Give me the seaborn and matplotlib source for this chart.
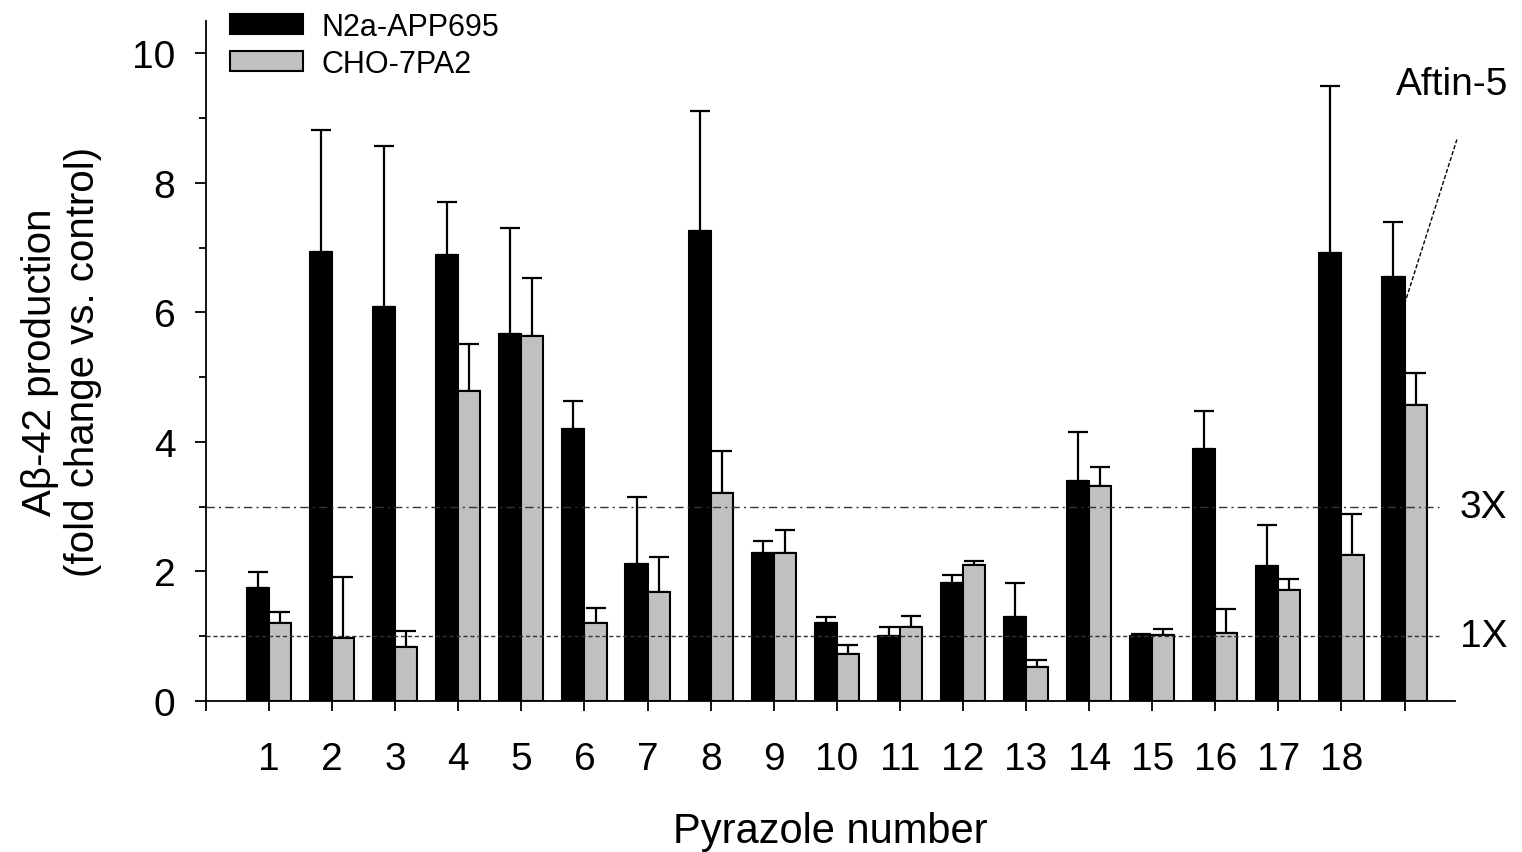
import matplotlib
matplotlib.use("Agg")
import matplotlib.pyplot as plt
import seaborn as sns
import pandas as pd
import numpy as np

# ---- data ----
pyrazoles = [str(i) for i in range(1, 20)]
tick_labels = [str(i) for i in range(1, 19)]
n2a_mean = [1.74, 6.93, 6.08, 6.89, 5.66, 4.20, 2.11, 7.25, 2.28, 1.20,
            1.01, 1.82, 1.30, 3.40, 1.00, 3.89, 2.09, 6.91, 6.55]
n2a_upper = [1.99, 8.82, 8.57, 7.71, 7.31, 4.64, 3.15, 9.11, 2.47, 1.30,
             1.14, 1.95, 1.82, 4.15, 1.03, 4.48, 2.71, 9.50, 7.40]
cho_mean = [1.20, 0.97, 0.84, 4.78, 5.63, 1.20, 1.69, 3.21, 2.28, 0.73,
            1.15, 2.10, 0.52, 3.32, 1.02, 1.05, 1.71, 2.25, 4.57]
cho_upper = [1.38, 1.91, 1.08, 5.52, 6.53, 1.44, 2.23, 3.86, 2.64, 0.87,
             1.32, 2.16, 0.63, 3.61, 1.11, 1.42, 1.88, 2.88, 5.06]
series = ["N2a-APP695", "CHO-7PA2"]
colors = {"N2a-APP695": "black", "CHO-7PA2": "#c0c0c0"}

df = pd.DataFrame({
    "Pyrazole": pyrazoles * 2,
    "Line": [series[0]] * 19 + [series[1]] * 19,
    "Value": n2a_mean + cho_mean,
})

sns.set_style("ticks")
plt.rcParams["font.family"] = ["Liberation Sans", "DejaVu Sans"]
plt.rcParams.update({"text.color": "black", "axes.labelcolor": "black",
                     "xtick.color": "black", "ytick.color": "black",
                     "axes.edgecolor": "black"})

fig = plt.figure(figsize=(15.22, 8.53), dpi=100)
ax = fig.add_axes([206 / 1522, 1 - 702 / 853, (1455 - 206) / 1522, (702 - 22) / 853])

sns.barplot(data=df, x="Pyrazole", y="Value", hue="Line", order=pyrazoles,
            hue_order=series, palette=colors, errorbar=None, width=0.7,
            edgecolor="black", linewidth=1.5, ax=ax, zorder=2)

# error bars (upper only)
uppers = [n2a_upper, cho_upper]
for cont, up in zip(ax.containers, uppers):
    xs = [b.get_x() + b.get_width() / 2 for b in cont]
    hs = [b.get_height() for b in cont]
    err = [u - h for u, h in zip(up, hs)]
    ax.errorbar(xs, hs, yerr=[np.zeros(len(hs)), err], fmt="none",
                ecolor="black", elinewidth=1.6, capsize=7, capthick=1.6,
                zorder=1.5)

# reference lines
ax.hlines([3.0], -1, 18.55, colors="#333333", linestyles=(0, (6, 3, 1.5, 3)),
          linewidth=1.0, zorder=3)
ax.hlines([1.0], -1, 18.55, colors="#333333", linestyles=(0, (3, 2)),
          linewidth=1.0, zorder=3)
ax.text(18.88, 3.0, "3X", fontsize=28, va="center", ha="left")
ax.text(18.88, 1.0, "1X", fontsize=28, va="center", ha="left")

# Aftin-5 annotation
ax.text(18.75, 9.52, "Aftin-5", fontsize=28, va="center", ha="center")
ax.plot([18.0, 18.83], [6.13, 8.67], color="black", linestyle=(0, (3, 1.5)),
        linewidth=1.0, clip_on=False, zorder=4)

# axes
ax.set_xlim(-1, 18.8)
ax.set_ylim(0, 10.5)
ax.set_xticks(range(-1, 19))
ax.set_xticklabels([""] + tick_labels + [""])
ax.set_yticks([0, 2, 4, 6, 8, 10])
ax.set_yticks([1, 3, 5, 7, 9], minor=True)
ax.tick_params(axis="y", which="major", labelsize=28, length=8, width=1.3, pad=14)
ax.tick_params(axis="y", which="minor", length=5, width=1.3)
ax.tick_params(axis="x", which="major", labelsize=28, length=7, width=1.3, pad=22)
for s in ["top", "right"]:
    ax.spines[s].set_visible(False)
for s in ["left", "bottom"]:
    ax.spines[s].set_linewidth(1.3)
    ax.spines[s].set_color("black")

ax.set_xlabel("Pyrazole number", fontsize=30, labelpad=24)
ax.set_ylabel("A\u03b2-42 production\n(fold change vs. control)", fontsize=29,
              labelpad=22, linespacing=1.15)

handles, labels = ax.get_legend_handles_labels()
leg = ax.legend(handles, labels, loc="upper left",
                bbox_to_anchor=(230 / 1522, 1 - 13 / 853),
                bbox_transform=fig.transFigure, frameon=False, fontsize=22,
                handlelength=2.4, handleheight=0.62, handletextpad=0.6,
                labelspacing=0.22, borderpad=0, borderaxespad=0)
for t in leg.get_texts():
    t.set_color("black")

fig.savefig("out.png", dpi=100)
